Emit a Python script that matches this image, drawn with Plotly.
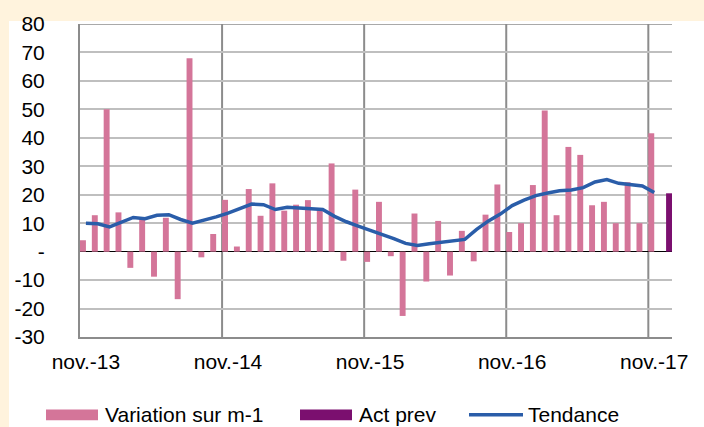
import plotly.graph_objects as go

months = ["nov.-13", "déc.-13", "janv.-14", "févr.-14", "mars-14", "avr.-14", "mai-14", "juin-14",
          "juil.-14", "août-14", "sept.-14", "oct.-14", "nov.-14", "déc.-14", "janv.-15", "févr.-15",
          "mars-15", "avr.-15", "mai-15", "juin-15", "juil.-15", "août-15", "sept.-15", "oct.-15",
          "nov.-15", "déc.-15", "janv.-16", "févr.-16", "mars-16", "avr.-16", "mai-16", "juin-16",
          "juil.-16", "août-16", "sept.-16", "oct.-16", "nov.-16", "déc.-16", "janv.-17", "févr.-17",
          "mars-17", "avr.-17", "mai-17", "juin-17", "juil.-17", "août-17", "sept.-17", "oct.-17",
          "nov.-17", "déc.-17"]

variation = [4.0, 12.8, 50.0, 13.8, -5.7, 11.6, -8.8, 11.9, -16.7, 68.0,
             -2.0, 6.2, 18.2, 1.8, 22.0, 12.6, 24.0, 14.4, 16.5, 18.1,
             14.6, 31.0, -3.2, 21.8, -3.6, 17.5, -1.6, -22.6, 13.4, -10.5,
             10.8, -8.4, 7.3, -3.4, 13.0, 23.6, 6.9, 10.0, 23.4, 49.6,
             12.8, 36.8, 34.0, 16.3, 17.5, 10.0, 24.4, 10.0, 41.6]

act_prev_month = ["déc.-17"]
act_prev = [20.5]

tendance = [10.0, 9.8, 8.7, 10.3, 12.0, 11.6, 12.8, 13.0, 11.3, 10.0,
            11.0, 12.2, 13.5, 15.0, 16.7, 16.5, 14.8, 15.6, 15.3, 15.1,
            14.8, 12.4, 10.5, 9.0, 7.6, 6.3, 4.6, 2.9, 2.2, 2.8,
            3.4, 3.7, 4.3, 7.8, 10.8, 13.2, 16.2, 18.1, 19.7, 20.6,
            21.4, 21.7, 22.5, 24.5, 25.3, 24.0, 23.4, 23.1, 20.8]

year_ticks = ["nov.-13", "nov.-14", "nov.-15", "nov.-16", "nov.-17"]
y_ticks = [-30, -20, -10, 0, 10, 20, 30, 40, 50, 60, 70, 80]
y_ticktext = ["-30", "-20", "-10", "-", "10", "20", "30", "40", "50", "60", "70", "80"]

PINK = "#D47599"
PURPLE = "#7B0F6F"
BLUE = "#2A5DA9"
CREAM = "#FFF3DD"
FONT = "Liberation Sans, Arial, sans-serif"
FS = 21

W, H = 704, 427
L, R, T, B = 80, 32, 17, 90
PW, PH = W - L - R, H - T - B


def px_x(px):
    return (px - L) / PW


def px_y(py):
    return (H - B - py) / PH


fig = go.Figure()
fig.add_trace(go.Bar(x=months[:len(variation)], y=variation, name="Variation sur m-1",
                     width=0.5, offset=-0.5,
                     marker=dict(color=PINK, line=dict(width=0))))
fig.add_trace(go.Bar(x=act_prev_month, y=act_prev, name="Act prev",
                     width=0.5, offset=0.0,
                     marker=dict(color=PURPLE, line=dict(width=0))))
fig.add_trace(go.Scatter(x=months[:len(tendance)], y=tendance, name="Tendance", mode="lines",
                         line=dict(color=BLUE, width=3.5)))

shapes = []
shapes.append(dict(type="rect", xref="paper", yref="paper", x0=px_x(9), x1=px_x(710),
                   y0=px_y(432), y1=px_y(14), fillcolor="white", line=dict(width=0), layer="below"))
for xv in [11.5, 23.5, 35.5, 47.5]:
    shapes.append(dict(type="line", xref="x", yref="y", x0=xv, x1=xv, y0=-30, y1=80,
                       line=dict(color="#8C8C8C", width=2), layer="below"))
shapes.append(dict(type="line", xref="paper", yref="y", x0=0, x1=1, y0=80, y1=80,
                   line=dict(color="#8C8C8C", width=1.5), layer="below"))

shapes.append(dict(type="rect", xref="paper", yref="paper", x0=px_x(46), x1=px_x(98),
                   y0=px_y(422), y1=px_y(411), fillcolor=PINK, line=dict(width=0)))
shapes.append(dict(type="rect", xref="paper", yref="paper", x0=px_x(300), x1=px_x(352),
                   y0=px_y(422), y1=px_y(411), fillcolor=PURPLE, line=dict(width=0)))
shapes.append(dict(type="line", xref="paper", yref="paper", x0=px_x(469), x1=px_x(523),
                   y0=px_y(416.5), y1=px_y(416.5), line=dict(color=BLUE, width=3.5)))

annotations = []
for txt, xp in [("Variation sur m-1", 103), ("Act prev", 357), ("Tendance", 526)]:
    annotations.append(dict(text=txt, xref="paper", yref="paper", x=px_x(xp), y=px_y(416.5),
                            xanchor="left", yanchor="middle", showarrow=False,
                            font=dict(family=FONT, size=FS, color="#000000")))

fig.update_layout(
    width=W, height=H,
    margin=dict(l=L, r=R, t=T, b=B),
    paper_bgcolor=CREAM,
    plot_bgcolor="white",
    barmode="overlay",
    showlegend=False,
    font=dict(family=FONT, size=FS, color="#000000"),
    shapes=shapes,
    annotations=annotations,
    xaxis=dict(type="category", categoryorder="array", categoryarray=months,
               range=[-0.5, len(months) - 0.5],
               tickmode="array", tickvals=year_ticks, ticktext=year_ticks,
               showgrid=False, zeroline=False, ticks="",
               showline=True, linecolor="#8C8C8C", linewidth=2,
               ticklabelstandoff=5, tickfont=dict(family=FONT, size=FS, color="#000000")),
    yaxis=dict(range=[-30, 80], tickmode="array", tickvals=y_ticks, ticktext=y_ticktext,
               showgrid=True, gridcolor="#BFBFBF", gridwidth=1.5,
               zeroline=True, zerolinecolor="#000000", zerolinewidth=1.3,
               showline=True, linecolor="#8C8C8C", linewidth=2, ticks="",
               ticklabelstandoff=29, tickfont=dict(family=FONT, size=FS, color="#000000")),
)

fig.write_html("out.html", config={"displayModeBar": False},
               post_script="document.body.style.margin='0';document.body.style.background='" + CREAM + "';")
